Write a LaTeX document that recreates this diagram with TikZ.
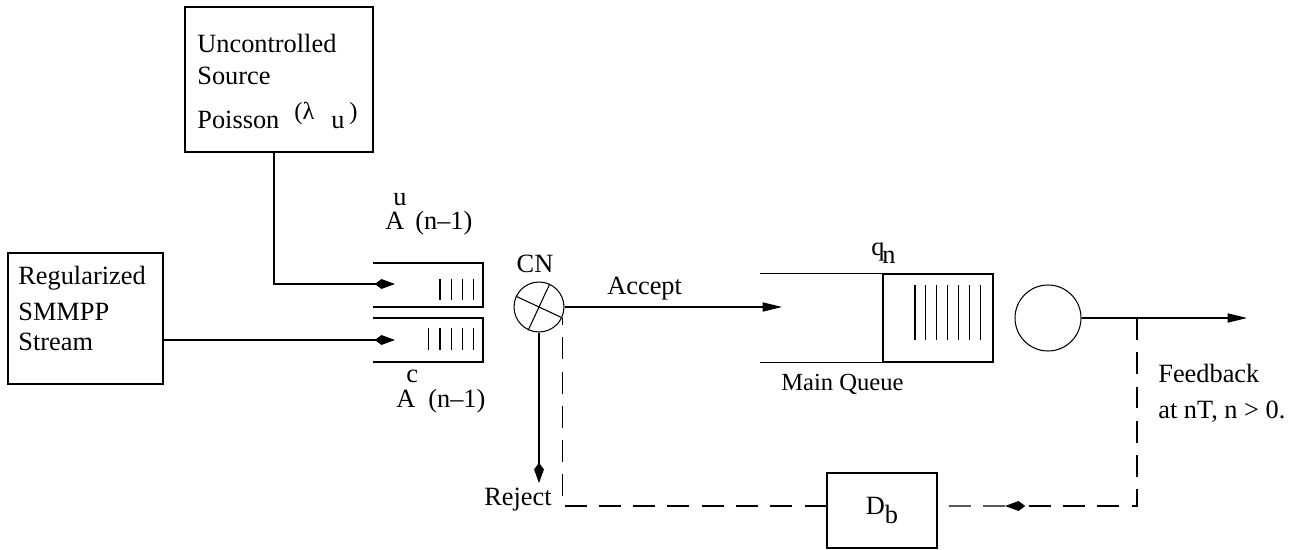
\documentclass[tikz,border=0pt]{standalone}
\usepackage{fontspec}
\setmainfont{Liberation Serif}
\usetikzlibrary{arrows.meta}
\begin{document}
\begin{tikzpicture}[x=0.02cm,y=-0.02cm,
  every node/.style={font=\fontsize{15}{18}\selectfont, inner sep=0pt},
  box/.style={draw, line width=0.6pt, inner sep=0pt},
  ln/.style={line width=0.6pt},
  dsh/.style={line width=0.6pt, dash pattern=on 12.5pt off 7pt},
  kite/.style={-{Kite[length=11.5pt,width=5.6pt,inset=3.8pt]}},
  tri/.style={-{Triangle[length=11pt,width=5.2pt]}},
  lbl/.style={anchor=base west},
]
\useasboundingbox (0,0) rectangle (1297,550);

% Uncontrolled source box
\node[box, minimum width=3.76cm, minimum height=2.9cm] (ubox) at (279,79.5) {};
\node[lbl] (t1) at (197,53) {Uncontrolled};
\node[lbl] (t2) at (197,85) {Source};
\node[lbl] (t3) at (197,129) {Poisson};
\node[lbl, font=\fontsize{14}{16}\selectfont] (t4) at (294,120) {(λ};
\node[lbl] (t5) at (331,129) {u};
\node[lbl, font=\fontsize{14}{16}\selectfont] (t6) at (349,120) {)};

% SMMPP box
\node[box, minimum width=3.1cm, minimum height=2.62cm] (sbox) at (85.5,318.5) {};
\node[lbl] (s1) at (18,285) {Regularized};
\node[lbl] (s2) at (18,320) {SMMPP};
\node[lbl] (s3) at (18,350) {Stream};

% two small queues
\draw[ln] (373,263) -- (483,263) -- (483,307) -- (373,307);
\draw[ln] (373,318) -- (483,318) -- (483,362) -- (373,362);
\foreach \x in {440,451.5,462.8,473.5} \draw[ln] (\x,279) -- (\x,300);
\foreach \x in {428.5,440,451.5,462.8,473.5} \draw[ln] (\x,328) -- (\x,350);
\coordinate (uq) at (395,284);
\coordinate (cq) at (395,340);

\draw[ln, kite] ([xshift=-0.1cm]ubox.south) |- (uq);
\draw[ln, kite] (sbox.east |- cq) -- (cq);

% A labels
\node[lbl] (au1) at (385,230) {A};
\node[lbl] (au2) at (393,206) {u};
\node[lbl] (au3) at (415,230) {(n–1)};
\node[lbl] (ac1) at (396,407) {A};
\node[lbl] (ac2) at (406,382) {c};
\node[lbl] (ac3) at (428,407) {(n–1)};

% CN circle
\node[draw, circle, line width=0.6pt, minimum size=1cm] (cn) at (539,307) {};
\draw[ln] (cn.155) -- (cn.-25);
\draw[ln] (cn.65) -- (cn.245);
\node[anchor=base] (cnl) at (535,273) {CN};

% Accept
\coordinate (acc) at (782,307);
\draw[ln, tri] (cn.east) -- (acc);
\node[lbl] (accl) at (607,295) {Accept};

% Reject
\coordinate (rej) at (539,483);
\draw[ln, kite] (cn.south) -- (rej);
\node[anchor=base east] (rejl) at (552,505) {Reject};

% main queue
\node[box, minimum width=2.2cm, minimum height=1.76cm] (mq) at (938,318) {};
\draw[ln] (mq.north west) -- ++(-122,0);
\draw[ln] (mq.south west) -- ++(-122,0);
\foreach \i in {0,...,6} \draw[ln] (915+10.9*\i,285) -- (915+10.9*\i,340);
\node[lbl] (qn) at (871,256) {q\kern-1.2pt\raisebox{-4pt}{n}};
\node[lbl, font=\fontsize{14}{16}\selectfont] (mql) at (781,390) {Main Queue};

% server
\node[draw, circle, line width=0.6pt, minimum size=1.32cm] (srv) at (1048,318) {};
\coordinate (out) at (1247,318);
\coordinate (fb) at (1137,318);
\draw[ln, tri] (srv.east) -- (out);

\node[lbl] (fb1) at (1158,382) {Feedback};
\node[lbl] (fb2) at (1158,418) {at nT, n > 0.};

% delay box
\node[box, minimum width=2.2cm, minimum height=1.5cm] (db) at (882,510.5) {D\raisebox{-5.5pt}{b}};

% feedback dashed path
\coordinate (fa) at (1005,506);
\draw[dsh, kite] (fb) |- (fa);
\draw[dsh] (fa) -- ([yshift=2.55pt]db.east);
\draw[dsh] ([yshift=2.55pt]db.west) -| (cn.-25);
\end{tikzpicture}
\end{document}
